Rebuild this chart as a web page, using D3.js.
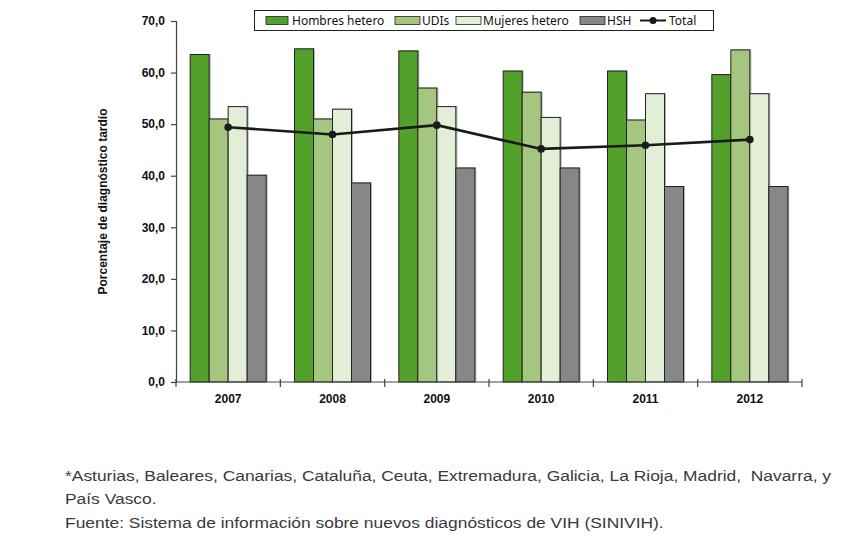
<!DOCTYPE html>
<html>
<head>
<meta charset="utf-8">
<script src="https://cdn.jsdelivr.net/npm/d3@7"></script>
<style>
  body { margin: 0; background: #fff; }
  svg text { font-family: "Liberation Sans", Arial, sans-serif; }
  .axis text { font-size: 12px; font-weight: bold; fill: #111; }
  .legend text { font-family: "Noto Sans", sans-serif; font-size: 12px; fill: #111; }
  .note { font-size: 15.5px; fill: #3a3a3a; }
</style>
</head>
<body>
<div id="chart"></div>
<script>
/* 
DATA
*/
const years = ["2007", "2008", "2009", "2010", "2011", "2012"];
const series = ["Hombres hetero", "UDIs", "Mujeres hetero", "HSH"];
const hombresHetero = [63.5, 64.6, 64.2, 60.3, 60.3, 59.6];
const udis = [51.0, 51.0, 57.0, 56.2, 50.8, 64.4];
const mujeresHetero = [53.4, 52.9, 53.4, 51.3, 55.9, 55.9];
const hsh = [40.1, 38.6, 41.5, 41.5, 37.9, 37.9];
const total = [49.4, 48.0, 49.8, 45.2, 45.9, 47.0];
const yTicks = [0, 10, 20, 30, 40, 50, 60, 70];
const colors = ["#52a12a", "#a4c67f", "#e2eed6", "#878787"];

/* 
SET UP 
*/
const w = 862;
const h = 541;
const m = { top: 21, right: 60, bottom: 159, left: 176 };

const svg = d3.select("#chart")
  .append("svg")
  .attr("width", w)
  .attr("height", h);

const x = d3.scaleBand()
  .domain(years)
  .range([m.left, w - m.right])
  .paddingInner(0)
  .paddingOuter(0);

const y = d3.scaleLinear()
  .domain([0, 70])
  .range([h - m.bottom, m.top]);

const barW = 19;
const xs = d3.scaleBand()
  .domain(series)
  .range([x.bandwidth() / 2 - 2 * barW, x.bandwidth() / 2 + 2 * barW]);

const values = [hombresHetero, udis, mujeresHetero, hsh];

/*
BARS
*/
const groups = svg.selectAll(".year")
  .data(years)
  .join("g")
  .attr("class", "year")
  .attr("transform", d => `translate(${x(d)},0)`);

const cells = groups.selectAll("g.bar")
  .data((d, i) => series.map((s, j) => ({ s: s, v: values[j][i], c: colors[j] })))
  .join("g")
  .attr("class", "bar");

// light shadow behind each bar
cells.append("rect")
  .attr("x", d => xs(d.s) + 1.5)
  .attr("y", d => y(d.v) - 0.5)
  .attr("width", xs.bandwidth())
  .attr("height", d => y(0) - y(d.v))
  .attr("fill", "#b5b5b5");

cells.append("rect")
  .attr("x", d => xs(d.s))
  .attr("y", d => y(d.v))
  .attr("width", xs.bandwidth())
  .attr("height", d => y(0) - y(d.v))
  .attr("fill", d => d.c)
  .attr("stroke", "#222")
  .attr("stroke-width", 1);

/*
AXES
*/
const yAxis = svg.append("g")
  .attr("class", "axis")
  .attr("transform", `translate(${m.left},0)`)
  .call(d3.axisLeft(y).tickValues(yTicks).tickSize(5).tickPadding(6)
    .tickFormat(d => d3.format(".1f")(d).replace(".", ",")));
yAxis.select(".domain").attr("stroke", "#444").attr("stroke-width", 1.2);
yAxis.selectAll(".tick line").attr("stroke", "#444").attr("stroke-width", 1.2);

const xAxis = svg.append("g")
  .attr("class", "axis")
  .attr("transform", `translate(0,${y(0)})`);
xAxis.append("line")
  .attr("x1", m.left).attr("x2", w - m.right)
  .attr("stroke", "#444").attr("stroke-width", 1.2);
xAxis.selectAll(".xt")
  .data(years.concat(["end"]))
  .join("line")
  .attr("x1", (d, i) => m.left + i * x.bandwidth())
  .attr("x2", (d, i) => m.left + i * x.bandwidth())
  .attr("y1", -3).attr("y2", 5)
  .attr("stroke", "#444").attr("stroke-width", 1.2);
xAxis.selectAll("text")
  .data(years)
  .join("text")
  .attr("x", d => x(d) + x.bandwidth() / 2)
  .attr("y", 21)
  .attr("text-anchor", "middle")
  .text(d => d);

svg.append("text")
  .attr("transform", `translate(107,${(y(0) + y(70)) / 2}) rotate(-90)`)
  .attr("text-anchor", "middle")
  .attr("font-size", 12)
  .attr("font-weight", "bold")
  .attr("fill", "#111")
  .text("Porcentaje de diagnóstico tardío");

/*
TOTAL LINE
*/
const cx = d => x(d) + x.bandwidth() / 2;
const line = d3.line()
  .x((d, i) => cx(years[i]))
  .y(d => y(d));

svg.append("path")
  .datum(total)
  .attr("d", line)
  .attr("fill", "none")
  .attr("stroke", "#1a1a1a")
  .attr("stroke-width", 2.6);

svg.selectAll(".dot")
  .data(total)
  .join("circle")
  .attr("class", "dot")
  .attr("cx", (d, i) => cx(years[i]))
  .attr("cy", d => y(d))
  .attr("r", 3.8)
  .attr("fill", "#1a1a1a");

/*
LEGEND
*/
const lg = svg.append("g").attr("class", "legend");
lg.append("rect")
  .attr("x", 254.5).attr("y", 10.5)
  .attr("width", 459).attr("height", 20)
  .attr("fill", "#fff").attr("stroke", "#222");

const legendX = [266, 395, 456, 580];
series.forEach((s, j) => {
  lg.append("rect")
    .attr("x", legendX[j]).attr("y", 16.5)
    .attr("width", j === 0 ? 22 : 25).attr("height", 8)
    .attr("fill", colors[j]).attr("stroke", "#222").attr("stroke-width", 0.8);
  lg.append("text")
    .attr("x", legendX[j] + (j === 0 ? 26 : 27))
    .attr("y", 25)
    .text(s);
});
lg.append("line")
  .attr("x1", 640).attr("x2", 666).attr("y1", 20.5).attr("y2", 20.5)
  .attr("stroke", "#1a1a1a").attr("stroke-width", 2);
lg.append("circle")
  .attr("cx", 653).attr("cy", 20.5).attr("r", 3.5).attr("fill", "#1a1a1a");
lg.append("text").attr("x", 669).attr("y", 25).text("Total");

/*
NOTES
*/
const notes = [
  "*Asturias, Baleares, Canarias, Cataluña, Ceuta, Extremadura, Galicia, La Rioja, Madrid,  Navarra, y",
  "País Vasco.",
  "Fuente: Sistema de información sobre nuevos diagnósticos de VIH (SINIVIH)."
];
const noteG = svg.append("g");
const noteText = noteG.selectAll(".note")
  .data(notes)
  .join("text")
  .attr("class", "note")
  .attr("x", 0)
  .attr("y", (d, i) => 481 + i * 23.5)
  .attr("xml:space", "preserve")
  .text(d => d);
// stretch the notes so the first line spans the same width as the original
const firstLen = noteText.node().getComputedTextLength();
const sx = firstLen > 0 ? 767 / firstLen : 1;
noteG.attr("transform", `translate(65,0) scale(${sx},1)`);
</script>
</body>
</html>
